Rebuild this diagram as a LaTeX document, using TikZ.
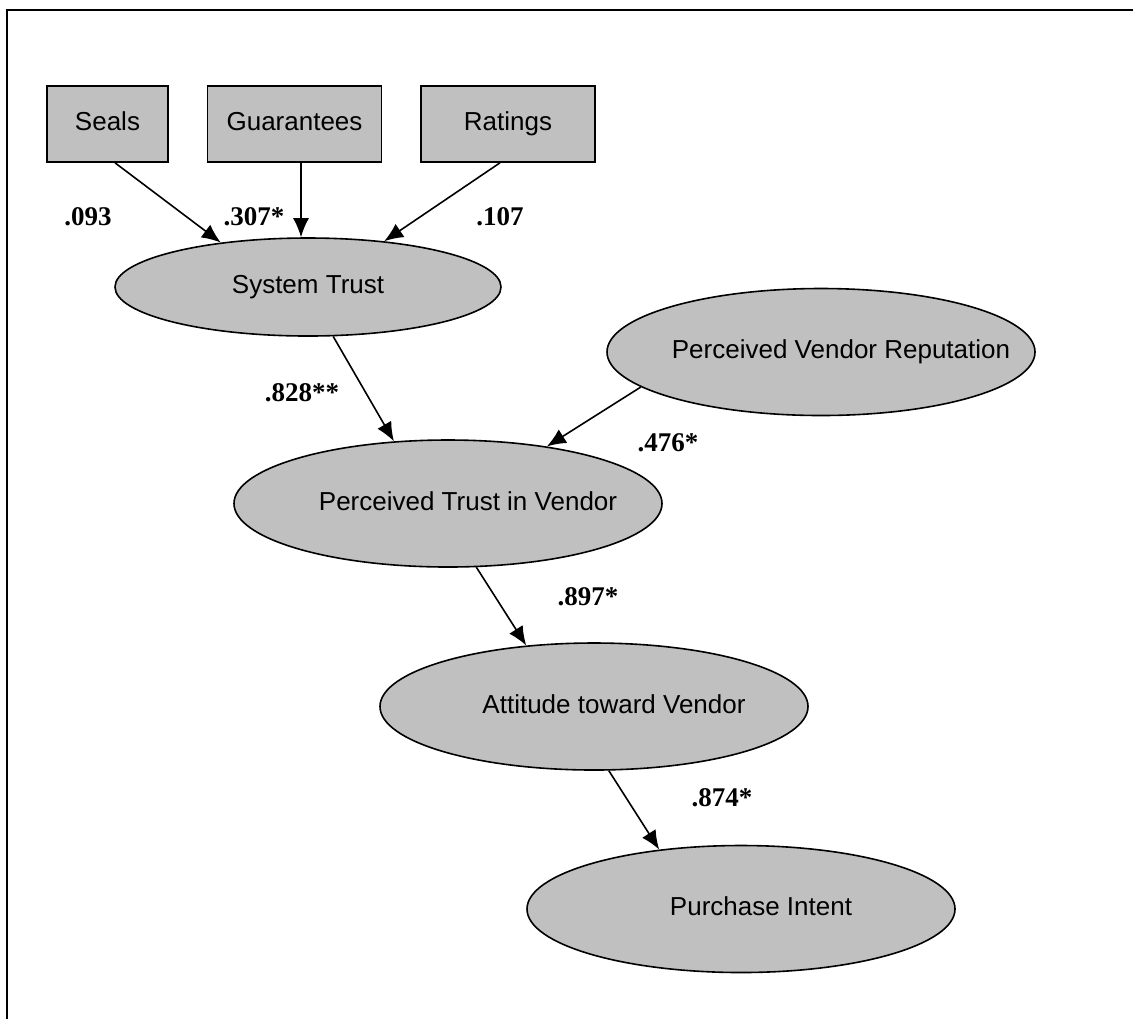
\documentclass[tikz,border=0pt]{standalone}
\usepackage{fontspec}
\setmainfont{Liberation Sans}
\newfontfamily\coeffont{Liberation Serif}
\usetikzlibrary{shapes.geometric,arrows.meta}
\definecolor{boxgray}{RGB}{192,192,192}
\tikzset{>={Latex[length=9.5pt,width=8pt]}}
\tikzset{
    indicator/.style={draw,fill=boxgray,line width=0.8pt,minimum height=38pt,
        inner sep=0pt,text height=9.5pt,text depth=2.8pt,font=\fontsize{13}{15}\selectfont},
    latent/.style={ellipse,draw,fill=boxgray,line width=0.8pt,minimum width=214pt,
        minimum height=63.5pt,inner sep=0pt,text height=9.5pt,text depth=2.8pt,
        font=\fontsize{13}{15}\selectfont},
    ltext/.style={xshift=10pt,text height=9.5pt,text depth=2.8pt,font=\fontsize{13}{15}\selectfont},
    coef/.style={inner sep=0pt,font=\coeffont\bfseries\fontsize{13.5}{15}\selectfont},
    path/.style={->,line width=0.8pt}
}

\begin{document}
\begin{tikzpicture}[x=0.5pt,y=-0.5pt]
    \useasboundingbox (0,0) rectangle (1133,1019);
    \draw[line width=1pt] (7,1019) -- (7,10) -- (1133,10);
    \node[indicator,minimum width=60.5pt] (seals) at (107.5,124) {Seals};
    \node[indicator,minimum width=87pt]   (guar)  at (294.5,124) {Guarantees};
    \node[indicator,minimum width=87pt]   (rate)  at (508,124)   {Ratings};
    \node[latent,minimum width=193pt,minimum height=49pt] (st) at (308,287) {System Trust};
    \node[latent,label={[ltext]center:Perceived Vendor Reputation}] (pvr) at (821,352) {};
    \node[latent,label={[ltext]center:Perceived Trust in Vendor}]    (ptv) at (448,503.5) {};
    \node[latent,label={[ltext]center:Attitude toward Vendor}]       (atv) at (594,706.5) {};
    \node[latent,label={[ltext]center:Purchase Intent}]              (pi)  at (741,909) {};
    \draw[path] ([xshift=3.75pt]seals.south) -- (st.153);
    \draw[path] ([xshift=3.25pt]guar.south) -- ([xshift=-3.5pt]st.north);
    \draw[path] ([xshift=-4pt]rate.south) -- (st.31.5);
    \draw[path] (st.-63.7) -- (ptv.131.8);
    \draw[path] (pvr.191) -- (ptv.30.9);
    \draw[path] (ptv.-66.8) -- (atv.138);
    \draw[path] (atv.-77.5) -- (pi.144.3);
    \node[coef] (c1) at (88,217)  {.093};
    \node[coef] (c2) at (254,217) {.307*};
    \node[coef] (c3) at (500,217) {.107};
    \node[coef] (c4) at (302,393) {.828**};
    \node[coef] (c5) at (668,443) {.476*};
    \node[coef] (c6) at (588,597) {.897*};
    \node[coef] (c7) at (722,798) {.874*};
\end{tikzpicture}
\end{document}
